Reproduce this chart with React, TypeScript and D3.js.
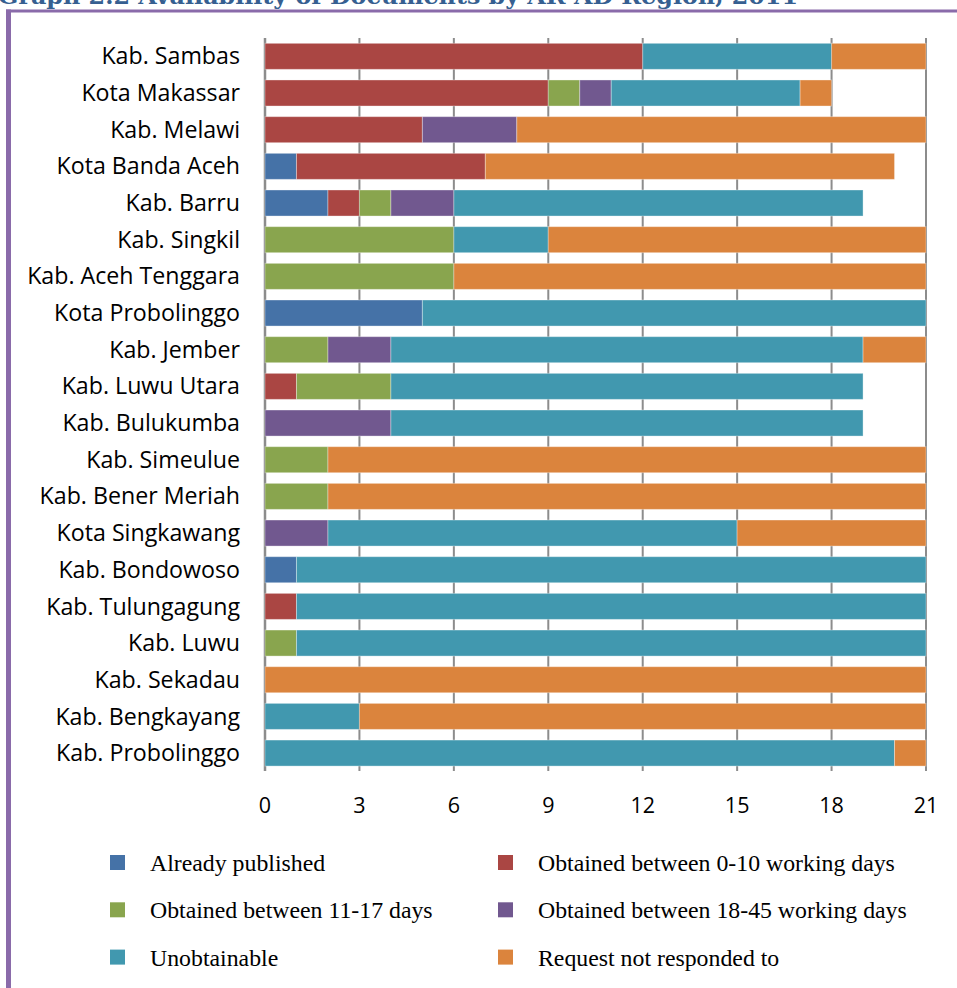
import React from "react";
import * as d3 from "d3";

const regions = [
  "Kab. Sambas", "Kota Makassar", "Kab. Melawi", "Kota Banda Aceh", "Kab. Barru",
  "Kab. Singkil", "Kab. Aceh Tenggara", "Kota Probolinggo", "Kab. Jember", "Kab. Luwu Utara",
  "Kab. Bulukumba", "Kab. Simeulue", "Kab. Bener Meriah", "Kota Singkawang", "Kab. Bondowoso",
  "Kab. Tulungagung", "Kab. Luwu", "Kab. Sekadau", "Kab. Bengkayang", "Kab. Probolinggo",
];

const alreadyPublished = [0, 0, 0, 1, 2, 0, 0, 5, 0, 0, 0, 0, 0, 0, 1, 0, 0, 0, 0, 0];
const obtained0to10 = [12, 9, 5, 6, 1, 0, 0, 0, 0, 1, 0, 0, 0, 0, 0, 1, 0, 0, 0, 0];
const obtained11to17 = [0, 1, 0, 0, 1, 6, 6, 0, 2, 3, 0, 2, 2, 0, 0, 0, 1, 0, 0, 0];
const obtained18to45 = [0, 1, 3, 0, 2, 0, 0, 0, 2, 0, 4, 0, 0, 2, 0, 0, 0, 0, 0, 0];
const unobtainable = [6, 6, 0, 0, 13, 3, 0, 16, 15, 15, 15, 0, 0, 13, 20, 20, 20, 0, 3, 20];
const notResponded = [3, 1, 13, 13, 0, 12, 15, 0, 2, 0, 0, 19, 19, 6, 0, 0, 0, 21, 18, 1];

const seriesNames = [
  "Already published",
  "Obtained between 0-10 working days",
  "Obtained between 11-17 days",
  "Obtained between 18-45 working days",
  "Unobtainable",
  "Request not responded to",
];
const seriesColors = ["#4572A7", "#AA4643", "#89A54E", "#71588F", "#4198AF", "#DB843D"];
const xTicks = [0, 3, 6, 9, 12, 15, 18, 21];

const W = 957;
const H = 988;

export default function App() {
  const allSeries = [alreadyPublished, obtained0to10, obtained11to17, obtained18to45, unobtainable, notResponded];
  const rows = regions.map((r, i) => {
    const o: any = { region: r };
    seriesNames.forEach((s, k) => (o[s] = allSeries[k][i]));
    return o;
  });
  const stacked = d3.stack().keys(seriesNames)(rows);

  const x = d3.scaleLinear().domain([0, 21]).range([265, 926]);
  const y = d3.scaleBand().domain(regions).range([38, 771.4]).paddingInner(0.29).paddingOuter(0.145);

  const legendItems = seriesNames.map((name, i) => ({
    name,
    color: seriesColors[i],
    col: i % 2,
    row: Math.floor(i / 2),
  }));

  return (
    <svg width={W} height={H} style={{ position: "absolute", left: 0, top: 0, display: "block", background: "#fff" }}>
      <text x={-2} y={4} fontFamily="DejaVu Serif" fontWeight="bold" fontSize={23} fill="#365F91"
        textLength={800} lengthAdjust="spacingAndGlyphs">
        Graph 2.2 Availability of Documents by AR AD Region, 2011
      </text>
      {/* frame */}
      <line x1={6} y1={11} x2={957} y2={11} stroke="#8A6BAA" strokeWidth={3} />
      <line x1={8.5} y1={9.5} x2={8.5} y2={988} stroke="#8A6BAA" strokeWidth={5} />

      {/* grid */}
      {xTicks.map((t) => (
        <line key={t} x1={x(t)} x2={x(t)} y1={38} y2={771} stroke="#8c8c8c" strokeWidth={t === 0 ? 2.5 : 2} />
      ))}

      {/* bars */}
      {stacked.map((s, k) => (
        <g key={k} fill={seriesColors[k]}>
          {s.map((d, i) =>
            d[1] - d[0] > 0 ? (
              <rect key={i} x={x(d[0])} y={y(regions[i])!} width={x(d[1]) - x(d[0])} height={y.bandwidth()}
                stroke="rgba(255,255,255,0.35)" strokeWidth={1} />
            ) : null
          )}
        </g>
      ))}

      {/* category labels */}
      {regions.map((r) => (
        <text key={r} x={240} y={y(r)! + y.bandwidth() / 2} dy="0.35em" textAnchor="end"
          fontFamily="Open Sans" fontSize={23.2} fill="#000">
          {r}
        </text>
      ))}

      {/* x tick labels */}
      {xTicks.map((t) => (
        <text key={t} x={x(t)} y={813} textAnchor="middle" fontFamily="Open Sans" fontSize={21.5} fill="#000">
          {t}
        </text>
      ))}

      {/* legend */}
      {legendItems.map((it) => {
        const sx = it.col === 0 ? 110 : 498;
        const cy = 862.5 + it.row * 47.3;
        return (
          <g key={it.name}>
            <rect x={sx} y={cy - 7.5} width={15} height={15} fill={it.color} />
            <text x={sx + 40} y={cy + 8.5} fontFamily="Liberation Serif" fontSize={23.8} fill="#000">
              {it.name}
            </text>
          </g>
        );
      })}
    </svg>
  );
}
